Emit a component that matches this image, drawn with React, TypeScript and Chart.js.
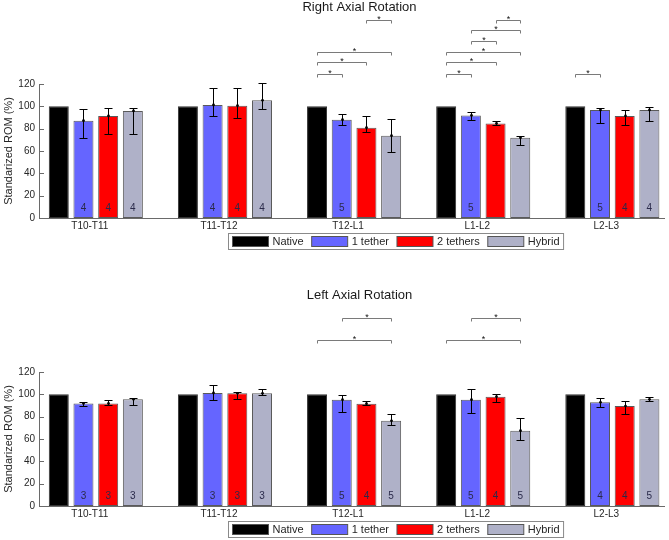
import React, { useEffect, useRef } from 'react';
import { Chart, registerables } from 'chart.js';

Chart.register(...registerables);

const FONT = '"Liberation Sans", Arial, Helvetica, sans-serif';
const AXIS = '#6a6a6a';
const TEXT = '#262626';

const categories = ['T10-T11', 'T11-T12', 'T12-L1', 'L1-L2', 'L2-L3'];
const seriesNames = ['Native', '1 tether', '2 tethers', 'Hybrid'];
const seriesColors = ['#000000', '#6565FF', '#FF0000', '#AFB1C8'];
const yTicks = [0, 20, 40, 60, 80, 100, 120];

// ---- Right Axial Rotation ----
const rightNative = [100, 100, 100, 100, 100];
const rightOneTether = [87.2, 101.2, 88.0, 91.9, 96.7];
const rightTwoTethers = [91.4, 100.6, 80.9, 84.7, 91.4];
const rightHybrid = [95.9, 105.4, 73.7, 71.9, 96.7];

const rightOneTetherHigh = [98.0, 116.2, 93.2, 94.6, 98.2];
const rightOneTetherLow = [71.9, 91.4, 83.3, 87.8, 84.7];
const rightTwoTethersHigh = [98.2, 116.2, 91.4, 87.1, 97.0];
const rightTwoTethersLow = [74.9, 89.8, 77.0, 83.3, 82.9];
const rightHybridHigh = [98.8, 120.7, 88.7, 73.0, 99.5];
const rightHybridLow = [74.9, 97.9, 59.0, 65.3, 86.9];

const rightOneTetherN = [4, 4, 5, 5, 5];
const rightTwoTethersN = [4, 4, null, null, 4];
const rightHybridN = [4, 4, null, null, 4];

// [group, fromSeries, toSeries, level]
const rightBrackets = [
  [2, 0, 1, 129], [2, 0, 2, 139.5], [2, 0, 3, 149], [2, 2, 3, 177.5],
  [3, 0, 1, 129], [3, 0, 2, 139.5], [3, 0, 3, 149], [3, 1, 2, 158.5], [3, 1, 3, 168], [3, 2, 3, 177.5],
  [4, 0, 1, 129],
];

// ---- Left Axial Rotation ----
const leftNative = [100, 100, 100, 100, 100];
const leftOneTether = [91.9, 101.2, 95.2, 95.2, 92.8];
const leftTwoTethers = [91.9, 100.9, 91.6, 97.9, 89.5];
const leftHybrid = [95.5, 100.9, 76.3, 67.4, 95.5];

const leftOneTetherHigh = [93.4, 108.7, 99.1, 104.5, 96.4];
const leftOneTetherLow = [89.5, 94.6, 84.4, 83.2, 88.6];
const leftTwoTethersHigh = [95.2, 101.8, 94.0, 100.0, 93.7];
const leftTwoTethersLow = [90.7, 95.5, 90.7, 92.8, 82.0];
const leftHybridHigh = [96.4, 105.1, 82.3, 78.4, 97.3];
const leftHybridLow = [90.1, 99.7, 72.8, 59.3, 93.7];

const leftOneTetherN = [3, 3, 5, 5, 4];
const leftTwoTethersN = [3, 3, 4, 4, 4];
const leftHybridN = [3, 3, 5, 5, 5];

const leftBrackets = [
  [2, 0, 3, 149], [2, 1, 3, 168],
  [3, 0, 3, 149], [3, 1, 3, 168],
];

type PanelProps = {
  title: string;
  values: number[][];
  highs: (number[] | null)[];
  lows: (number[] | null)[];
  ns: ((number | null)[] | null)[];
  brackets: number[][];
};

function makeExtras(p: PanelProps) {
  return {
    id: 'extras',
    afterDraw(chart: any) {
      const ctx: CanvasRenderingContext2D = chart.ctx;
      const ys = chart.scales.y;
      const area = chart.chartArea;
      ctx.save();

      // inward y ticks
      ctx.strokeStyle = AXIS;
      ctx.lineWidth = 1;
      ys.ticks.forEach((t: any) => {
        const py = Math.round(ys.getPixelForValue(t.value)) + 0.5;
        ctx.beginPath();
        ctx.moveTo(area.left, py);
        ctx.lineTo(area.left + 5, py);
        ctx.stroke();
      });

      // error bars
      ctx.strokeStyle = '#000';
      ctx.fillStyle = '#000';
      p.highs.forEach((hiArr, d) => {
        const loArr = p.lows[d];
        if (!hiArr || !loArr) return;
        const meta = chart.getDatasetMeta(d);
        hiArr.forEach((hi, i) => {
          const lo = loArr[i];
          const el = meta.data[i];
          const x = Math.round(el.x) + 0.5;
          const yh = Math.round(ys.getPixelForValue(hi)) + 0.5;
          const yl = Math.round(ys.getPixelForValue(lo)) + 0.5;
          const ym = ys.getPixelForValue(p.values[d][i]);
          ctx.beginPath();
          ctx.moveTo(x, yh); ctx.lineTo(x, yl);
          ctx.moveTo(x - 4, yh); ctx.lineTo(x + 4, yh);
          ctx.moveTo(x - 4, yl); ctx.lineTo(x + 4, yl);
          ctx.stroke();
          ctx.beginPath();
          ctx.arc(x, ym, 1.4, 0, Math.PI * 2);
          ctx.fill();
        });
      });

      // n labels
      ctx.font = `10px ${FONT}`;
      ctx.fillStyle = '#2a2a4a';
      ctx.textAlign = 'center';
      ctx.textBaseline = 'middle';
      p.ns.forEach((arr, d) => {
        if (!arr) return;
        const meta = chart.getDatasetMeta(d);
        arr.forEach((n, i) => {
          if (n == null) return;
          const el = meta.data[i];
          ctx.fillText(String(n), el.x, area.bottom - 10);
        });
      });

      // significance brackets
      p.brackets.forEach(([g, a, b, level]) => {
        const xa = Math.round(chart.getDatasetMeta(a).data[g].x) + 0.5;
        const xb = Math.round(chart.getDatasetMeta(b).data[g].x) + 0.5;
        const y = Math.round(ys.getPixelForValue(level)) + 0.5;
        ctx.strokeStyle = '#7a7a7a';
        ctx.beginPath();
        ctx.moveTo(xa, y + 3); ctx.lineTo(xa, y); ctx.lineTo(xb, y); ctx.lineTo(xb, y + 3);
        ctx.stroke();
        ctx.fillStyle = '#111';
        ctx.font = `9px ${FONT}`;
        ctx.textAlign = 'center';
        ctx.textBaseline = 'alphabetic';
        ctx.fillText('*', (xa + xb) / 2, y + 1.5);
      });

      // title
      ctx.fillStyle = '#1a1a1a';
      ctx.font = `13px ${FONT}`;
      ctx.textAlign = 'center';
      ctx.textBaseline = 'middle';
      ctx.fillText(p.title, 359.5, 7);

      // legend
      ctx.font = `11px ${FONT}`;
      const sw = 36, tg = 4, ig = 8, pad = 4;
      const widths = seriesNames.map((n) => ctx.measureText(n).width);
      let total = pad * 2 + ig * (seriesNames.length - 1);
      widths.forEach((w) => { total += sw + tg + w; });
      const bx = Math.round(395.5 - total / 2) + 0.5;
      const by = 233.5;
      ctx.fillStyle = '#fff';
      ctx.fillRect(bx, by, total, 16);
      ctx.strokeStyle = '#8a8a8a';
      ctx.strokeRect(bx, by, total, 16);
      let x = bx + pad;
      ctx.textAlign = 'left';
      ctx.textBaseline = 'middle';
      seriesNames.forEach((n, i) => {
        ctx.fillStyle = seriesColors[i];
        ctx.fillRect(x, by + 3, sw, 10);
        ctx.strokeStyle = '#555';
        ctx.strokeRect(x, by + 3, sw, 10);
        ctx.fillStyle = TEXT;
        ctx.fillText(n, x + sw + tg, by + 8.5);
        x += sw + tg + widths[i] + ig;
      });

      ctx.restore();
    },
  };
}

function Panel(props: PanelProps & { top: number }) {
  const ref = useRef<HTMLCanvasElement>(null);
  useEffect(() => {
    if (!ref.current) return;
    const chart = new Chart(ref.current, {
      type: 'bar',
      data: {
        datasets: props.values.map((vals, d) => ({
          label: seriesNames[d],
          data: vals.map((v, i) => ({ x: i + 1, y: v })),
          backgroundColor: seriesColors[d],
          borderColor: d === 0 ? '#333' : '#5a5a5a',
          borderWidth: 1,
          borderSkipped: false,
          categoryPercentage: 0.765,
          barPercentage: 0.81,
        })),
      },
      options: {
        responsive: false,
        animation: false,
        events: [],
        layout: { padding: { top: 84, right: 5, left: 0, bottom: 0 } },
        plugins: { legend: { display: false }, tooltip: { enabled: false }, title: { display: false } },
        scales: {
          x: {
            type: 'linear',
            min: 0.56,
            max: 5.4,
            offset: false,
            grid: { display: false, offset: false, drawTicks: false, tickLength: 0 },
            border: { display: true, color: AXIS, width: 1 },
            afterBuildTicks: (scale: any) => {
              scale.ticks = categories.map((_, i) => ({ value: i + 1 }));
            },
            afterFit: (scale: any) => { scale.height = 34; },
            ticks: {
              autoSkip: false,
              maxRotation: 0,
              padding: 2,
              labelOffset: -6,
              color: TEXT,
              font: { family: FONT, size: 10 },
              callback: (v: any) => categories[Math.round(Number(v)) - 1] ?? '',
            },
          },
          y: {
            min: 0,
            max: 120,
            grid: { display: false, drawTicks: false, tickLength: 0 },
            border: { display: true, color: AXIS, width: 1 },
            afterBuildTicks: (scale: any) => {
              scale.ticks = yTicks.map((v) => ({ value: v }));
            },
            afterFit: (scale: any) => { scale.width = 39; },
            ticks: {
              padding: 4,
              color: TEXT,
              font: { family: FONT, size: 10 },
            },
            title: {
              display: true,
              text: 'Standarized ROM (%)',
              color: TEXT,
              font: { family: FONT, size: 11 },
              padding: { top: 2, bottom: 0 },
            },
          },
        },
      } as any,
      plugins: [makeExtras(props)],
    });
    return () => chart.destroy();
  }, []);
  return (
    <canvas
      ref={ref}
      width={669}
      height={252}
      style={{ position: 'absolute', left: 0, top: props.top, width: 669, height: 252 }}
    />
  );
}

export default function App() {
  return (
    <div style={{ position: 'fixed', left: 0, top: 0, width: 669, height: 540, background: '#fff', overflow: 'hidden' }}>
      <Panel
        top={0}
        title="Right Axial Rotation"
        values={[rightNative, rightOneTether, rightTwoTethers, rightHybrid]}
        highs={[null, rightOneTetherHigh, rightTwoTethersHigh, rightHybridHigh]}
        lows={[null, rightOneTetherLow, rightTwoTethersLow, rightHybridLow]}
        ns={[null, rightOneTetherN, rightTwoTethersN, rightHybridN]}
        brackets={rightBrackets}
      />
      <Panel
        top={288}
        title="Left Axial Rotation"
        values={[leftNative, leftOneTether, leftTwoTethers, leftHybrid]}
        highs={[null, leftOneTetherHigh, leftTwoTethersHigh, leftHybridHigh]}
        lows={[null, leftOneTetherLow, leftTwoTethersLow, leftHybridLow]}
        ns={[null, leftOneTetherN, leftTwoTethersN, leftHybridN]}
        brackets={leftBrackets}
      />
    </div>
  );
}
